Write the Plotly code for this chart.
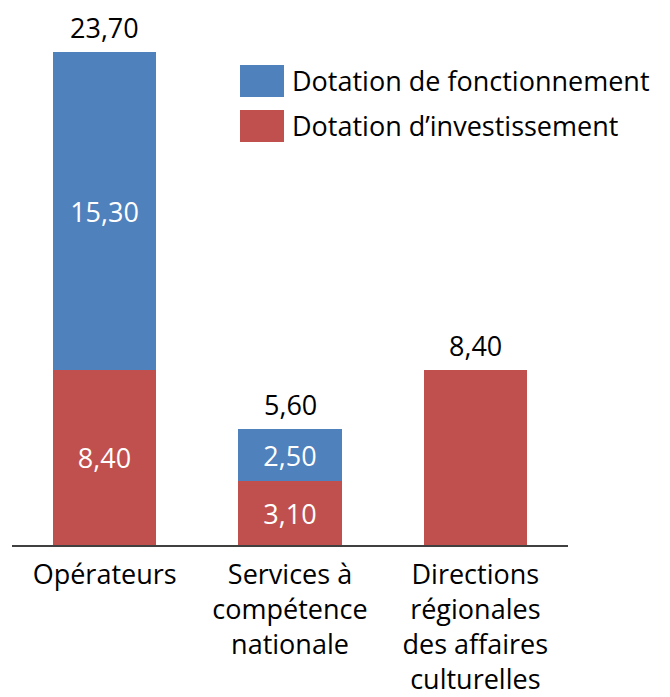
import plotly.graph_objects as go

categories = ["Opérateurs", "Services à<br>compétence<br>nationale", "Directions<br>régionales<br>des affaires<br>culturelles"]
investissement = [8.40, 3.10, 8.40]
fonctionnement = [15.30, 2.50, 0.0]
series_names = ["Dotation de fonctionnement", "Dotation d’investissement"]

BLUE = "#4F81BD"
RED = "#C0504D"
FONT = "Open Sans"
FS = 27

def fr(v):
    return f"{v:.2f}".replace(".", ",")

totals = [a + b for a, b in zip(investissement, fonctionnement)]
x = list(range(len(categories)))
stacked = [f > 0 for f in fonctionnement]

fig = go.Figure()
fig.add_bar(x=x, y=investissement, marker_color=RED, width=0.557,
            text=[fr(v) if s else "" for v, s in zip(investissement, stacked)],
            textposition="inside", insidetextanchor="middle",
            textfont=dict(color="white", size=FS, family=FONT),
            name=series_names[1], showlegend=False, marker_line_width=0)
fig.add_bar(x=x, y=fonctionnement, marker_color=BLUE, width=0.557,
            text=[fr(v) if v > 0 else "" for v in fonctionnement],
            textposition="inside", insidetextanchor="middle",
            textfont=dict(color="white", size=FS, family=FONT),
            name=series_names[0], showlegend=False, marker_line_width=0)
for xi, t in zip(x, totals):
    fig.add_annotation(x=xi, y=t, xref="x", yref="y", text=fr(t), showarrow=False,
                       yanchor="bottom", yshift=4,
                       font=dict(color="black", size=FS, family=FONT))

# custom legend
W, H = 670, 697
L, R, T, B = 12, 102, 25, 152
pw, ph = W - L - R, H - T - B
def px(xp):
    return (xp - L) / pw
def py(yp):
    return (H - B - yp) / ph
for i, (name, col) in enumerate(zip(series_names, [BLUE, RED])):
    y0 = 65 + i * 45
    fig.add_shape(type="rect", xref="paper", yref="paper",
                  x0=px(240), x1=px(284), y0=py(y0 + 32), y1=py(y0),
                  fillcolor=col, line=dict(width=0))
    fig.add_annotation(xref="paper", yref="paper", x=px(290), y=py(y0 + 16),
                       text=name, showarrow=False, xanchor="left", yanchor="middle",
                       font=dict(size=FS, family=FONT, color="black"))

fig.update_layout(
    width=W, height=H, margin=dict(l=L, r=R, t=T, b=B, autoexpand=False),
    paper_bgcolor="white", plot_bgcolor="white", barmode="stack",
    bargap=0, uniformtext=dict(mode="show", minsize=FS),
    font=dict(family=FONT, size=FS, color="black"),
)
fig.update_xaxes(tickvals=x, ticktext=categories, range=[-0.5, 2.5],
                 showline=True, linecolor="#404040", linewidth=1.5,
                 ticks="", showgrid=False, zeroline=False, automargin=False,
                 ticklabelstandoff=5,
                 tickfont=dict(size=FS, family=FONT, color="black"))
fig.update_yaxes(range=[0, 25], visible=False, showgrid=False, zeroline=False)

fig.write_html("out.html", config={"displayModeBar": False},
               post_script="document.body.style.margin='0';document.body.style.overflow='hidden';")
